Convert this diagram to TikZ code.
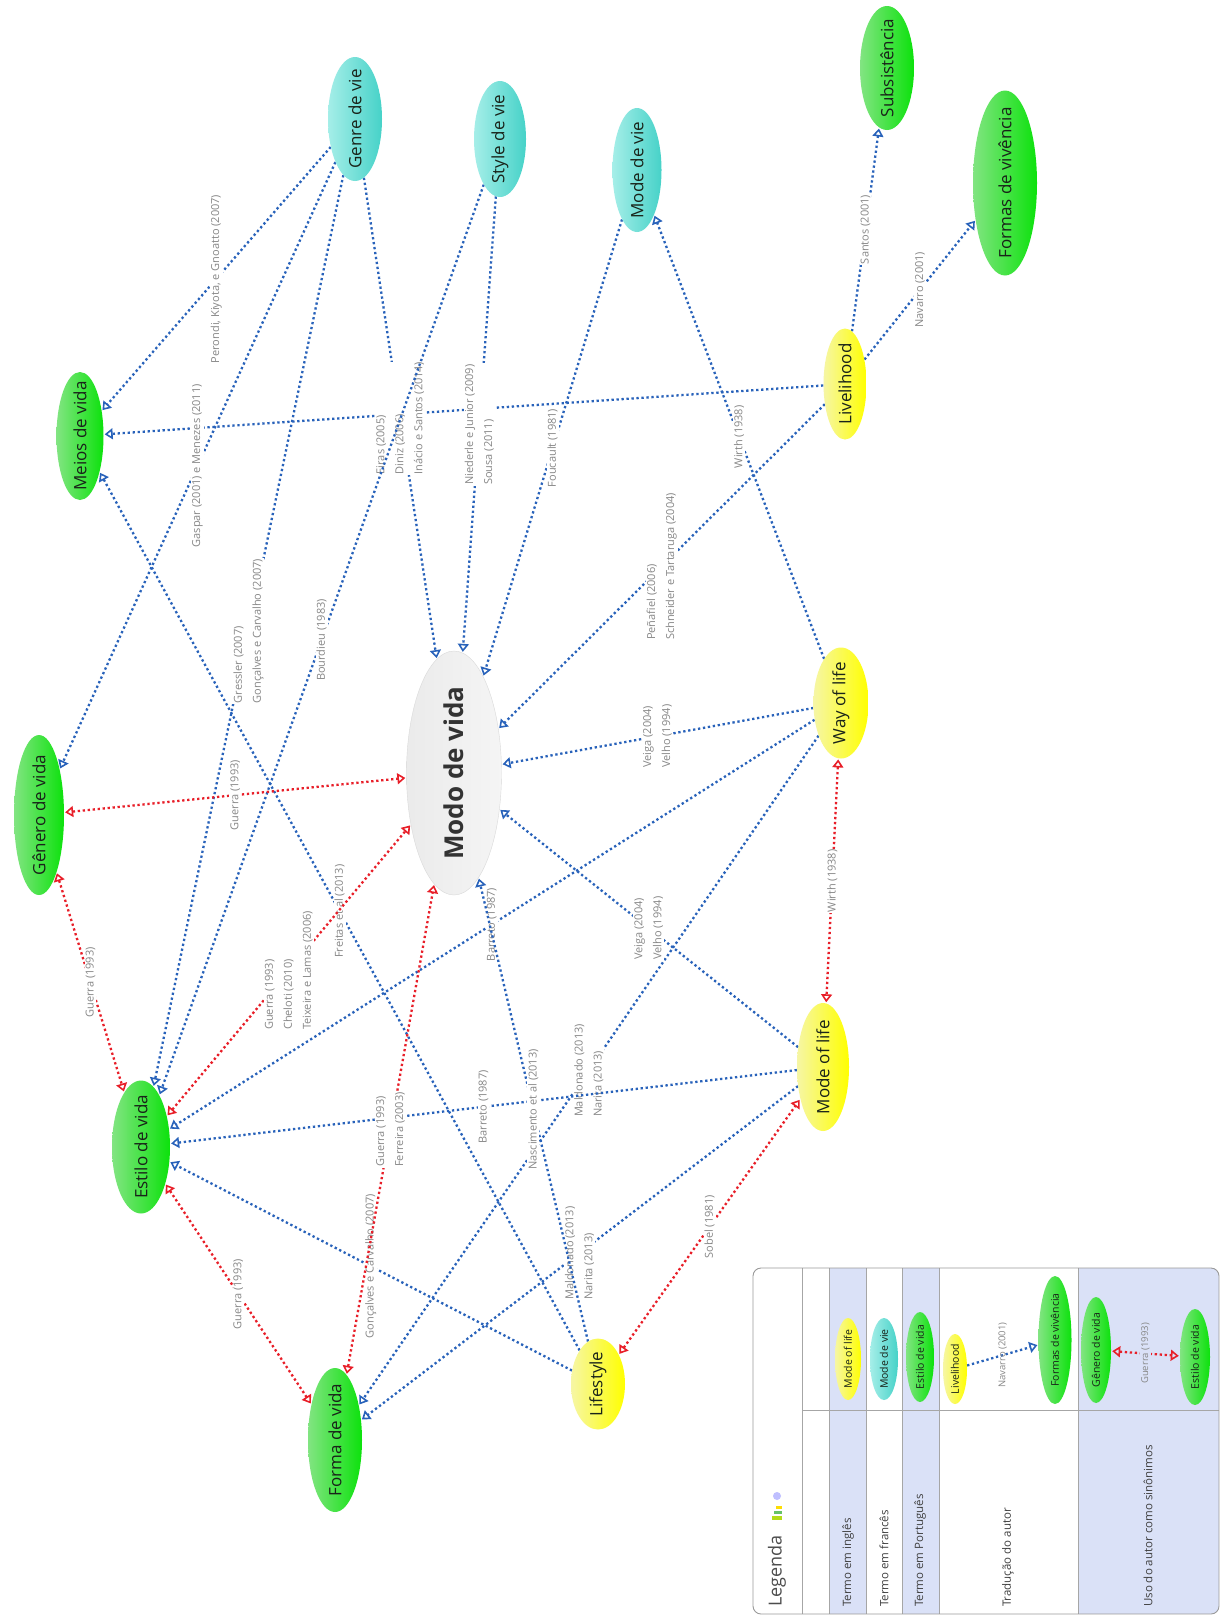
\documentclass[tikz,border=0pt]{standalone}
\usepackage{fontspec}
\setmainfont{Open Sans}
\usetikzlibrary{shapes.geometric,arrows.meta,backgrounds}
\definecolor{gL}{RGB}{130,228,130}
\definecolor{gR}{RGB}{12,226,12}
\definecolor{cL}{RGB}{165,238,232}
\definecolor{cR}{RGB}{70,210,200}
\definecolor{yL}{RGB}{246,246,165}
\definecolor{yR}{RGB}{255,255,0}
\definecolor{blC}{RGB}{40,98,186}
\definecolor{rdC}{RGB}{232,30,40}
\definecolor{lbC}{RGB}{135,135,135}
\definecolor{lgC}{RGB}{218,225,247}
\definecolor{ntC}{RGB}{25,35,25}
\newcommand\myfs[2]{\fontsize{#1}{#2}\selectfont}
\tikzset{
  nd/.style={ellipse, rotate=90, inner xsep=-14pt, inner ysep=0pt, font=\myfs{17}{20}, text=ntC},
  gnode/.style={nd, left color=gL, right color=gR},
  cnode/.style={nd, left color=cL, right color=cR},
  ynode/.style={nd, left color=yL, right color=yR},
  lnd/.style={font=\myfs{10.5}{12}, inner xsep=-8pt},
  tipb/.style={},
  bl/.style={draw=blC, line width=2.3pt, dash pattern=on 2.3pt off 2.7pt,
    -{Triangle[open,length=8pt,width=11pt,line width=1.6pt]}, shorten >=1pt},
  rd/.style={draw=rdC, line width=2.3pt, dash pattern=on 2.3pt off 2.7pt,
    {Triangle[open,length=8pt,width=11pt,line width=1.6pt]}-{Triangle[open,length=8pt,width=11pt,line width=1.6pt]},
    shorten >=1pt, shorten <=1pt},
  lbl/.style={rotate=90, fill=white, text=lbC, font=\myfs{11}{19}, align=left, inner sep=1pt},
  lgt/.style={rotate=90, anchor=west, font=\myfs{11.5}{14}, text=black!75, inner sep=0pt}
}
\begin{document}
\begin{tikzpicture}[x=1pt,y=-1pt]
\useasboundingbox (0,0) rectangle (1223,1617);
% main nodes
\node[gnode, minimum width=128pt, minimum height=47pt] (meios) at (80,436) {Meios de vida};
\node[cnode, minimum width=124pt, minimum height=54pt] (genre) at (355,119) {Genre de vie};
\node[cnode, minimum width=116pt, minimum height=52pt] (style) at (500,139) {Style de vie};
\node[cnode, minimum width=124pt, minimum height=49pt] (modevie) at (637,170) {Mode de vie};
\node[gnode, minimum width=124pt, minimum height=54pt] (subs) at (887,68) {Subsistência};
\node[gnode, minimum width=185pt, minimum height=64pt] (formasviv) at (1005,183) {Formas de vivência};
\node[ynode, minimum width=111pt, minimum height=43pt] (livelihood) at (845,384) {Livelihood};
\node[gnode, minimum width=160pt, minimum height=50pt] (genero) at (39,815) {Gênero de vida};
\node[nd, left color=black!8, right color=black!4, draw=black!15, minimum width=244pt, minimum height=95pt,
      font=\myfs{26}{30}\bfseries, text=black!80] (modo) at (454,773) {Modo de vida};
\node[ynode, minimum width=111pt, minimum height=55pt] (way) at (841,703) {Way of life};
\node[gnode, minimum width=133pt, minimum height=58pt] (estilo) at (141,1147) {Estilo de vida};
\node[ynode, minimum width=128pt, minimum height=52pt] (mol) at (823,1067) {Mode of life};
\node[gnode, minimum width=144pt, minimum height=54pt] (forma) at (335,1440) {Forma de vida};
\node[ynode, minimum width=91pt, minimum height=54pt] (lifestyle) at (598,1384) {Lifestyle};

\begin{scope}[on background layer]
\fill[white] (0,0) rectangle (1223,1617);
% blue
\draw[bl] (genre) -- node[lbl]{Perondi, Kiyota, e Gnoatto (2007)} (meios);
\draw[bl] (livelihood) -- (meios);
\draw[bl] (genre) -- node[lbl]{Gaspar (2001) e Menezes (2011)} (genero);
\draw[bl] (genre) -- node[lbl]{Gressler (2007)\\Gonçalves e Carvalho (2007)} (estilo);
\draw[bl] (genre) -- node[lbl]{Eiras (2005)\\Diniz (2006)\\Inácio e Santos (2014)} (modo);
\draw[bl] (style) -- node[lbl]{Bourdieu (1983)} (estilo);
\draw[bl] (style) -- node[lbl]{Niederle e Junior (2009)\\Sousa (2011)} (modo);
\draw[bl] (modevie) -- node[lbl]{Foucault (1981)} (modo);
\draw[bl] (livelihood) -- node[lbl]{Santos (2001)} (subs);
\draw[bl] (livelihood) -- node[lbl]{Navarro (2001)} (formasviv);
\draw[bl] (livelihood) -- node[lbl]{Peñafiel (2006)\\Schneider e Tartaruga (2004)} (modo);
\draw[bl] (way) -- node[lbl]{Wirth (1938)} (modevie);
\draw[bl] (way) -- node[lbl]{Veiga (2004)\\Velho (1994)} (modo);
\draw[bl] (way) -- node[lbl]{Barreto (1987)} (estilo);
\draw[bl] (way) -- node[lbl]{Maldonado (2013)\\Narita (2013)} (forma);
\draw[bl] (mol) -- node[lbl]{Veiga (2004)\\Velho (1994)} (modo);
\draw[bl] (mol) -- node[lbl]{Barreto (1987)} (estilo);
\draw[bl] (mol) -- node[lbl]{Maldonado (2013)\\Narita (2013)} (forma);
\draw[bl] (lifestyle) -- node[lbl]{Freitas et al (2013)} (meios);
\draw[bl] (lifestyle) -- node[lbl]{Nascimento et al (2013)} (modo);
\draw[bl] (lifestyle) -- node[lbl]{Gonçalves e Carvalho (2007)} (estilo);
% red
\draw[rd] (genero) -- node[lbl]{Guerra (1993)} (modo);
\draw[rd] (genero) -- node[lbl]{Guerra (1993)} (estilo);
\draw[rd] (estilo) -- node[lbl]{Guerra (1993)\\Cheloti (2010)\\Teixeira e Lamas (2006)} (modo);
\draw[rd] (estilo) -- node[lbl]{Guerra (1993)} (forma);
\draw[rd] (forma) -- node[lbl]{Guerra (1993)\\Ferreira (2003)} (modo);
\draw[rd] (way) -- node[lbl]{Wirth (1938)} (mol);
\draw[rd] (lifestyle) -- node[lbl]{Sobel (1981)} (mol);
\end{scope}

% legend
\begin{scope}
\clip[rounded corners=8pt] (753,1268) rectangle (1219,1614);
\fill[white] (753,1268) rectangle (1219,1614);
\fill[lgC] (829,1268) rectangle (866,1614);
\fill[lgC] (902,1268) rectangle (939,1614);
\fill[lgC] (1078,1268) rectangle (1219,1614);
\end{scope}
\draw[black!35, line width=0.8pt] (802,1268) -- (802,1614);
\foreach \xx in {829,866,902,939,1078}
  \draw[black!35, line width=0.8pt] (\xx,1268) -- (\xx,1614);
\draw[black!35, line width=0.8pt] (802,1410) -- (1219,1410);
\draw[rounded corners=8pt, draw=black!40, line width=0.9pt] (753,1268) rectangle (1219,1614);

\node[lgt, font=\myfs{18}{20}, text=black!70] (legtitle) at (777,1607) {Legenda};
\fill[yellow!70!green] (772,1520) rectangle (782,1516);
\fill[green!60!black!60] (774,1514) rectangle (782,1511);
\fill[yellow!80!orange] (776,1509) rectangle (782,1506);
\fill[blue!25] (777,1496) circle (4);

\node[lgt] (r1) at (848,1607) {Termo em inglês};
\node[lgt] (r2) at (884,1607) {Termo em francês};
\node[lgt] (r3) at (920,1607) {Termo em Português};
\node[lgt] (r4) at (1008,1607) {Tradução do autor};
\node[lgt] (r5) at (1148,1607) {Uso do autor como sinônimos};

\node[ynode, lnd, minimum width=82pt, minimum height=26pt] (lmol) at (848,1359) {Mode of life};
\node[cnode, lnd, minimum width=82pt, minimum height=28pt] (lmdv) at (884,1359) {Mode de vie};
\node[gnode, lnd, minimum width=90pt, minimum height=28pt] (lest1) at (920,1357) {Estilo de vida};
\node[ynode, lnd, minimum width=70pt, minimum height=24pt] (lliv) at (955,1369) {Livelihood};
\node[gnode, lnd, minimum width=128pt, minimum height=33pt] (lform) at (1055,1340) {Formas de vivência};
\node[gnode, lnd, minimum width=106pt, minimum height=30pt] (lgen) at (1096,1350) {Gênero de vida};
\node[gnode, lnd, minimum width=96pt, minimum height=30pt] (lest2) at (1195,1357) {Estilo de vida};
\draw[bl] (lliv) -- node[lbl, font=\myfs{9.5}{11}, fill=none]{Navarro (2001)} (lform);
\draw[rd] (lgen) -- node[lbl, font=\myfs{9.5}{11}, fill=lgC]{Guerra (1993)} (lest2);
\end{tikzpicture}
\end{document}
